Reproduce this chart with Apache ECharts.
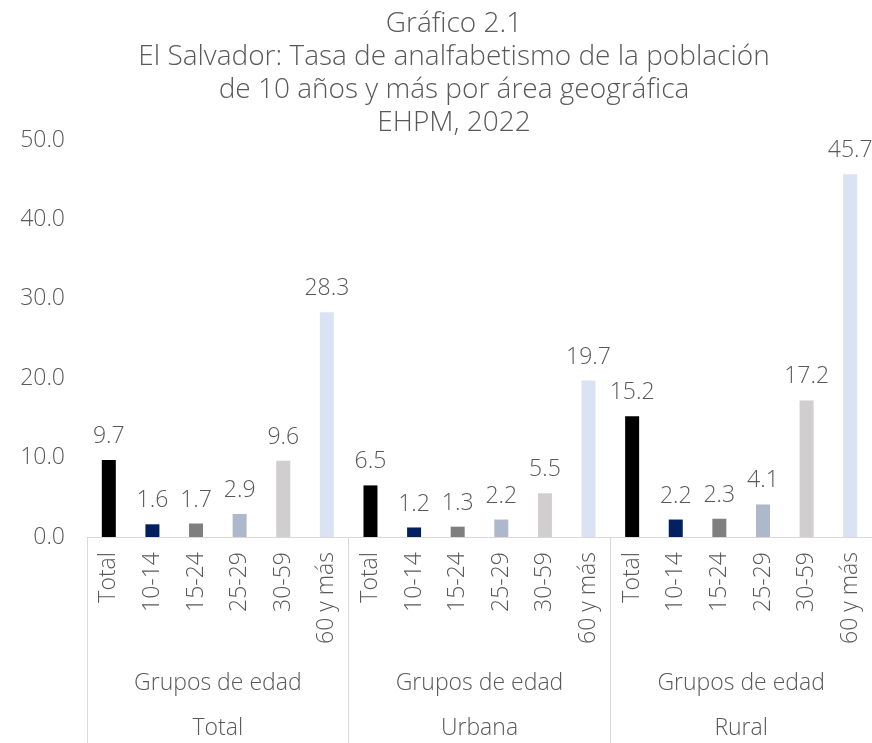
<!DOCTYPE html>
<html>
<head>
<meta charset="utf-8">
<script src="https://cdn.jsdelivr.net/npm/echarts@6/dist/echarts.min.js"></script>
<style>
  html, body { margin: 0; padding: 0; background: #fff; }
  #main { width: 872px; height: 743px; }
</style>
</head>
<body>
<div id="main"></div>
<script>
// datos
var edades = ['Total', '10-14', '15-24', '25-29', '30-59', '60 y más'];
var areas = ['Total', 'Urbana', 'Rural'];
var nivel2 = ['Grupos de edad', 'Grupos de edad', 'Grupos de edad'];
var valTotal = [9.7, 1.6, 1.7, 2.9, 9.6, 28.3];
var valUrbana = [6.5, 1.2, 1.3, 2.2, 5.5, 19.7];
var valRural = [15.2, 2.2, 2.3, 4.1, 17.2, 45.7];
var yTicks = [0, 10, 20, 30, 40, 50];
var colores = ['#000000', '#002060', '#7f7f7f', '#adb9ca', '#d0cece', '#dae3f3'];

var categorias = edades.concat(edades, edades);
var valores = valTotal.concat(valUrbana, valRural);

var myChart = echarts.init(document.getElementById('main'));
var txt = '#595959';
var fuente = 'Open Sans';
var tam = 23;

var option = {
    animation: false,
    title: {
        text: 'Gráfico 2.1\nEl Salvador: Tasa de analfabetismo de la población\nde 10 años y más por área geográfica\nEHPM, 2022',
        left: 449,
        top: 3,
        textAlign: 'center',
        textStyle: {
            color: txt,
            fontFamily: fuente,
            fontWeight: 300,
            fontSize: 28,
            lineHeight: 33
        }
    },
    grid: {
        left: 87,
        right: 0,
        top: 140,
        bottom: 206,
        containLabel: false,
        outerBoundsMode: 'none'
    },
    xAxis: [{
        type: 'category',
        data: categorias,
        axisLine: { lineStyle: { color: '#d9d9d9', width: 1 } },
        axisTick: { show: false },
        axisLabel: {
            interval: 0,
            rotate: 90,
            margin: 15,
            color: txt,
            fontFamily: fuente,
            fontWeight: 300,
            fontSize: tam
        }
    }, {
        type: 'category',
        data: nivel2,
        position: 'bottom',
        axisLine: { show: false },
        axisTick: { show: true, length: 206, lineStyle: { color: '#d9d9d9' } },
        axisLabel: {
            margin: 135,
            color: txt,
            fontFamily: fuente,
            fontWeight: 300,
            fontSize: tam
        }
    }, {
        type: 'category',
        data: areas,
        position: 'bottom',
        axisLine: { show: false },
        axisTick: { show: false },
        axisLabel: {
            margin: 180,
            color: txt,
            fontFamily: fuente,
            fontWeight: 300,
            fontSize: tam
        }
    }],
    yAxis: {
        type: 'value',
        min: yTicks[0],
        max: yTicks[yTicks.length - 1],
        interval: 10,
        splitLine: { show: false },
        axisLine: { show: false },
        axisTick: { show: false },
        axisLabel: {
            margin: 22,
            color: txt,
            fontFamily: fuente,
            fontWeight: 300,
            fontSize: tam,
            formatter: function (v) { return v.toFixed(1); }
        }
    },
    series: [{
        type: 'bar',
        xAxisIndex: 0,
        barWidth: 14,
        data: valores.map(function (v, i) {
            return { value: v, itemStyle: { color: colores[i % 6] } };
        }),
        label: {
            show: true,
            position: 'top',
            distance: 12,
            color: txt,
            fontFamily: fuente,
            fontWeight: 300,
            fontSize: tam,
            formatter: function (p) { return p.value.toFixed(1); }
        }
    }]
};

myChart.setOption(option);
</script>
</body>
</html>
